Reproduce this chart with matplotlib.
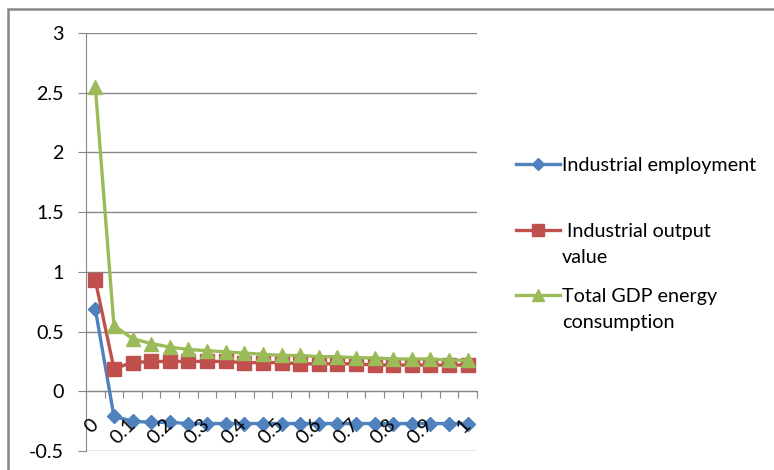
import matplotlib
matplotlib.use("Agg")
import matplotlib.pyplot as plt
from matplotlib.lines import Line2D
from matplotlib.patches import Rectangle
import numpy as np

plt.rcParams["font.family"] = ["Lato", "DejaVu Sans"]

# shares 0 .. 1 in steps of 0.05
categories = [f"{v:g}" for v in np.round(np.arange(0, 1.0001, 0.05), 2)]

employment = [0.69, -0.21, -0.25, -0.26, -0.26, -0.27, -0.27, -0.27, -0.27, -0.27, -0.27,
              -0.27, -0.27, -0.27, -0.27, -0.27, -0.27, -0.27, -0.27, -0.27, -0.27]
output_value = [0.93, 0.19, 0.24, 0.25, 0.25, 0.25, 0.25, 0.25, 0.24, 0.24, 0.24,
                0.23, 0.23, 0.23, 0.23, 0.22, 0.22, 0.22, 0.22, 0.22, 0.22]
gdp_energy = [2.55, 0.55, 0.44, 0.40, 0.37, 0.35, 0.34, 0.33, 0.32, 0.31, 0.30,
              0.30, 0.29, 0.29, 0.28, 0.28, 0.27, 0.27, 0.27, 0.26, 0.26]

series = [
    ("Industrial employment", employment, "#4F81BD", "D", 7.5),
    (" Industrial output\nvalue", output_value, "#C0504D", "s", 9.5),
    ("Total GDP energy\nconsumption", gdp_energy, "#9BBB59", "^", 10),
]
# legend rows (pixel y of the marker line)
legend_rows = [164, 230, 295]

GRID = "#878787"
W, H = 774, 470
FS = 14.2

fig = plt.figure(figsize=(W / 100, H / 100), dpi=100)
fig.patches.append(Rectangle((8 / W, -0.1), 1.2, 1.1 - 9 / H, transform=fig.transFigure,
                             fill=False, edgecolor="#868686", lw=1.8))

ax = fig.add_axes([86 / W, 1 - 451 / H, 391 / W, 418 / H])
x = np.arange(len(categories))

for name, vals, color, marker, ms in series:
    ax.plot(x, vals, color=color, lw=2.4, marker=marker, ms=ms,
            markeredgecolor=color, zorder=3, clip_on=False)

ax.set_ylim(-0.5, 3)
ax.set_xlim(-0.5, len(categories) - 0.5)
yt = np.arange(-0.5, 3.01, 0.5)
ax.set_yticks(yt)
ax.set_yticklabels([f"{v:g}" for v in yt])
ax.yaxis.grid(True, color=GRID, lw=1)
ax.set_axisbelow(True)

for side in ["top", "right"]:
    ax.spines[side].set_visible(False)
ax.spines["left"].set_color(GRID)
ax.spines["bottom"].set_color(GRID)
ax.spines["bottom"].set_position(("data", 0))

# tick marks between categories, labels on every other category
ax.set_xticks(np.arange(-0.5, len(categories), 1.0))
ax.set_xticklabels([])
ax.set_xticks(x[::2], categories[::2], minor=True)
ax.tick_params(axis="x", which="major", length=5, color=GRID, direction="out")
ax.tick_params(axis="x", which="minor", length=0, pad=22, labelsize=FS)
for lab in ax.get_xticklabels(minor=True):
    lab.set_rotation(45)
    lab.set_ha("right")
    lab.set_va("center")
    lab.set_rotation_mode("anchor")
ax.xaxis.set_zorder(4)
ax.tick_params(axis="y", length=6, color=GRID, pad=10, labelsize=FS)

# legend on the right, wrapped names one text line at a time
for (name, vals, color, marker, ms), ry in zip(series, legend_rows):
    ly = 1 - ry / H
    fig.add_artist(Line2D([516 / W, 560 / W], [ly, ly], color=color, lw=2.4,
                          transform=fig.transFigure))
    fig.add_artist(Line2D([538 / W], [ly], color=color, marker=marker, ms=ms * 0.85,
                          transform=fig.transFigure))
    for i, part in enumerate(name.split("\n")):
        fig.text(562 / W, 1 - (ry + 26 * i) / H, part, fontsize=FS,
                 ha="left", va="center_baseline")

fig.savefig("out.png", dpi=100)
